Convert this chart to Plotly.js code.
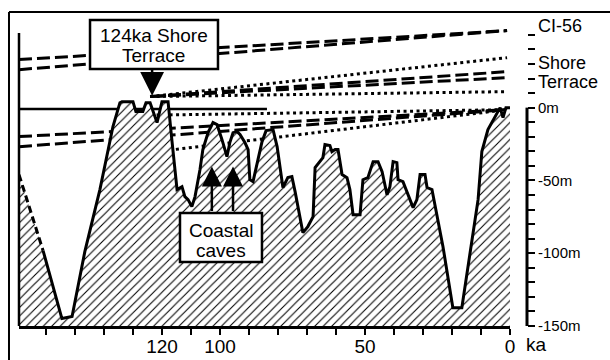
<!DOCTYPE html>
<html><head><meta charset="utf-8">
<script src="https://cdn.plot.ly/plotly-3.0.1.min.js"></script>
<style>html,body{margin:0;padding:0;background:#fff;} #chart{width:610px;height:360px;}</style>
</head><body><div id="chart"></div>
<script>
// ---- Sea-level curve (age in ka, sea level in m) ----
const ageKa = [169.3,161.0,154.5,151.0,146.6,141.4,139.0,136.9,134.5,133.8,130.0,129.0,126.6,125.5,124.1,121.7,120.0,117.9,116.6,115.5,114.8,113.1,112.1,111.0,109.7,108.6,106.9,105.9,104.1,102.4,101.0,99.3,97.6,96.6,95.5,94.1,93.1,91.4,90.3,89.7,88.6,86.9,85.5,84.1,81.7,80.3,78.3,76.6,75.2,74.1,71.4,69.7,67.9,67.2,64.5,63.8,62.1,61.4,60.3,59.3,57.9,56.2,55.2,54.1,51.7,50.7,49.0,47.2,45.5,44.1,42.4,41.4,40.3,39.0,38.6,36.9,33.4,32.1,31.0,29.3,28.6,26.9,23.1,19.7,16.6,11.0,9.7,7.6,4.5,3.4,2.4,1.4,0];
const seaLevelM = [-46.0,-98.2,-144.9,-143.5,-98.9,-56.3,-33.7,-13.0,3.4,4.1,4.1,-2.7,-2.7,3.4,3.4,-10.3,4.1,4.1,-22.0,-44.6,-56.3,-54.3,-61.1,-63.2,-68.0,-61.1,-42.6,-28.8,-17.2,-10.3,-11.7,-22.0,-33.7,-24.0,-17.2,-16.5,-18.5,-24.0,-28.8,-49.5,-50.8,-35.7,-23.4,-15.8,-15.1,-26.8,-54.9,-48.1,-47.4,-57.7,-85.9,-81.7,-74.9,-41.2,-34.3,-25.4,-26.1,-30.2,-28.8,-28.8,-46.0,-48.1,-56.3,-73.5,-73.5,-49.5,-48.1,-37.1,-37.1,-44.0,-59.8,-54.3,-37.1,-37.8,-49.5,-50.8,-68.7,-63.2,-46.0,-46.0,-54.9,-56.3,-95.5,-137.4,-137.4,-63.2,-30.2,-15.1,-3.4,0,-6.9,0,0];
const uncertainCount = 2; // first segment drawn dashed

// ---- Reference lines ----
const ci56Age = [169.3, 1.0];
const ci56UpperM = [33.0, 52.9];
const ci56LowerM = [26.1, 52.9];
const terraceAge = [124.1, 1.0];
const terraceDotHighM = [7.6, 34.3];
const terraceDashHighM = [7.6, 24.7];
const terraceDashLowM = [7.6, 20.6];
const terraceDotLowM = [7.6, 11.0];
const presentDotAge = [124.1, 1.0];
const presentDotHighM = [-5.2, -1.4];
const presentDotLowM = [-30.8, -1.4];
const presentDashAge = [169.3, 1.0];
const presentDashHighM = [-19.9, -1.4];
const presentDashLowM = [-26.8, -1.4];
const zeroLineAge = [169.3, 83.8];
const zeroLineM = [-1.0, -1.0];

// ---- Axis ticks ----
const xTickVals = [160,150,140,130,120,110,100,90,80,70,60,50,40,30,20,10,0];
const xTickText = ['','','','','120','','100','','','','','50','','','','','0'];
const yTickVals = [-150,-140,-130,-120,-110,-100,-90,-80,-70,-60,-50,-40,-30,-20,-10,0,10,20,30,40,50];
const yTickText = ['-150m','','','','','-100m','','','','','-50m','','','','','0m','','','','',''];

const X_MAX = 169.3, Y_MIN = -150, Y_MAX = 54.7;

const DASH = '13px,5px', DOT = '3px,3.5px';
function refLine(x, y, dash) {
  return {type:'scatter', mode:'lines', x:x, y:y, hoverinfo:'skip',
          line:{color:'black', width:3, dash:dash}};
}

const traces = [
  refLine(ci56Age, ci56UpperM, DASH),
  refLine(ci56Age, ci56LowerM, DASH),
  refLine(terraceAge, terraceDotHighM, DOT),
  refLine(terraceAge, terraceDashHighM, DASH),
  refLine(terraceAge, terraceDashLowM, DASH),
  refLine(terraceAge, terraceDotLowM, DOT),
  refLine(presentDotAge, presentDotHighM, DOT),
  refLine(presentDotAge, presentDotLowM, DOT),
  refLine(presentDashAge, presentDashHighM, DASH),
  refLine(presentDashAge, presentDashLowM, DASH),
  {type:'scatter', mode:'lines', x:zeroLineAge, y:zeroLineM, hoverinfo:'skip', line:{color:'black', width:2.5}},
  // hatched area
  {type:'scatter', mode:'lines', hoverinfo:'skip',
   x: ageKa.concat([ageKa[ageKa.length-1], ageKa[0]]),
   y: seaLevelM.concat([Y_MIN, Y_MIN]),
   fill:'toself', fillcolor:'white', line:{width:0, color:'rgba(0,0,0,0)'},
   fillpattern:{shape:'/', fgcolor:'black', bgcolor:'white', size:6, solidity:0.18}},
  // uncertain part of curve
  {type:'scatter', mode:'lines', hoverinfo:'skip',
   x: ageKa.slice(0, uncertainCount), y: seaLevelM.slice(0, uncertainCount),
   line:{color:'black', width:3, dash:'7px,4px'}},
  // curve
  {type:'scatter', mode:'lines', hoverinfo:'skip',
   x: ageKa.slice(uncertainCount-1), y: seaLevelM.slice(uncertainCount-1),
   line:{color:'black', width:3, shape:'linear'}}
];

const FONT = 'Liberation Sans, Arial, Helvetica, sans-serif';
const layout = {
  width:610, height:360,
  margin:{l:19, r:83, t:28, b:34, pad:0},
  paper_bgcolor:'white', plot_bgcolor:'white',
  showlegend:false,
  font:{family:FONT, color:'black'},
  xaxis:{domain:[0, 0.9665], range:[X_MAX, 0], showgrid:false, zeroline:false,
         showline:true, linewidth:3, linecolor:'black',
         ticks:'outside', ticklen:6, tickwidth:2, tickcolor:'black',
         tickmode:'array', tickvals:xTickVals, ticktext:xTickText,
         ticklabelstandoff:-5,
         tickfont:{size:19, family:FONT, color:'black'}, fixedrange:true},
  yaxis:{range:[Y_MIN, Y_MAX], anchor:'free', position:1, side:'right',
         showgrid:false, zeroline:false, showline:false,
         ticks:'outside', ticklen:7, tickwidth:2, tickcolor:'black',
         tickmode:'array', tickvals:yTickVals, ticktext:yTickText,
         tickfont:{size:15, family:FONT, color:'black'}, fixedrange:true},
  shapes:[
    // outer frame
    {type:'line', xref:'paper', yref:'paper', x0:-0.0197, x1:1.25, y0:1.0537, y1:1.0537, line:{color:'black', width:2}},
    {type:'line', xref:'paper', yref:'paper', x0:-0.0197, x1:-0.0197, y0:1.0537, y1:-0.2, line:{color:'black', width:2}},
    // inner left line
    {type:'line', xref:'paper', yref:'paper', x0:0, x1:0, y0:0.9832, y1:0, line:{color:'black', width:2.5}},
    // right y axis line (0 to -150 m)
    {type:'line', xref:'paper', yref:'y', x0:1, x1:1, y0:0, y1:Y_MIN, line:{color:'black', width:3}},
    // label boxes
    {type:'rect', layer:'above', xref:'paper', yref:'paper', x0:0.1398, x1:0.3917, y0:0.8624, y1:1.0268,
     fillcolor:'white', line:{color:'black', width:2.5}},
    {type:'rect', layer:'above', xref:'paper', yref:'paper', x0:0.3169, x1:0.4783, y0:0.2148, y1:0.3792,
     fillcolor:'white', line:{color:'black', width:2.5}}
  ],
  annotations:[
    {xref:'paper', yref:'paper', x:0.2657, y:0.9748, text:'124ka Shore', showarrow:false, font:{size:19}, xanchor:'center', yanchor:'middle'},
    {xref:'paper', yref:'paper', x:0.2657, y:0.9077, text:'Terrace', showarrow:false, font:{size:19}, xanchor:'center', yanchor:'middle'},
    {xref:'paper', yref:'paper', x:0.3976, y:0.3205, text:'Coastal', showarrow:false, font:{size:19}, xanchor:'center', yanchor:'middle'},
    {xref:'paper', yref:'paper', x:0.3976, y:0.2534, text:'caves', showarrow:false, font:{size:19}, xanchor:'center', yanchor:'middle'},
    {xref:'paper', yref:'paper', x:1, xshift:9, y:1.0067, text:'CI-56', showarrow:false, font:{size:18}, xanchor:'left', yanchor:'middle'},
    {xref:'paper', yref:'paper', x:1, xshift:9, y:0.8809, text:'Shore', showarrow:false, font:{size:18}, xanchor:'left', yanchor:'middle'},
    {xref:'paper', yref:'paper', x:1, xshift:9, y:0.8204, text:'Terrace', showarrow:false, font:{size:18}, xanchor:'left', yanchor:'middle'},
    {xref:'x', yref:'paper', x:0, xshift:14, y:0, yshift:-6, text:'ka', showarrow:false, font:{size:19}, xanchor:'left', yanchor:'top'},
    // arrows
    {xref:'x', yref:'y', x:123.4, y:8.2, ax:0, ay:-28, text:'', showarrow:true, arrowhead:2, arrowsize:1.9, arrowwidth:2.5, arrowcolor:'black', standoff:0},
    {xref:'x', yref:'y', x:102.8, y:-40.5, ax:0, ay:46, text:'', showarrow:true, arrowhead:2, arrowsize:1.6, arrowwidth:2.5, arrowcolor:'black', standoff:0},
    {xref:'x', yref:'y', x:95.5, y:-40.5, ax:0, ay:46, text:'', showarrow:true, arrowhead:2, arrowsize:1.6, arrowwidth:2.5, arrowcolor:'black', standoff:0}
  ]
};

Plotly.newPlot('chart', traces, layout, {displayModeBar:false, staticPlot:true});
</script>
</body></html>
